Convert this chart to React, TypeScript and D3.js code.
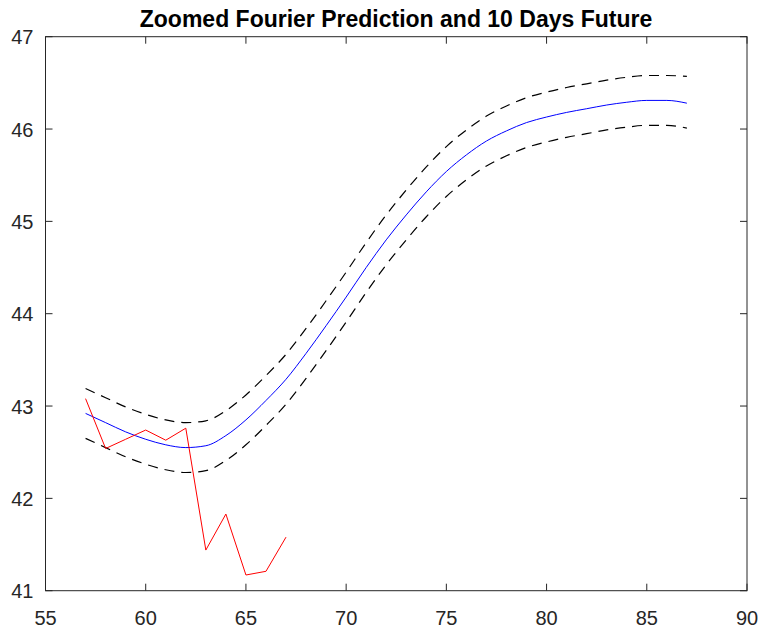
import React from "react";
import * as d3 from "d3";

const W = 764;
const H = 630;

const titleText = "Zoomed Fourier Prediction and 10 Days Future";

// Fitted Fourier prediction (days 57..87)
const fitDays = [57,58,59,60,61,62,63,64,65,66,67,68,69,70,71,72,73,74,75,76,77,78,79,80,81,82,83,84,85,86,87];
const fitValues = [42.92,42.82,42.72,42.64,42.58,42.55,42.57,42.68,42.85,43.06,43.29,43.57,43.87,44.18,44.50,44.80,45.07,45.32,45.54,45.72,45.87,45.98,46.07,46.13,46.18,46.22,46.26,46.29,46.31,46.31,46.28];
const upperValues = [43.19,43.09,42.99,42.91,42.85,42.82,42.84,42.95,43.12,43.33,43.56,43.84,44.14,44.45,44.77,45.07,45.34,45.59,45.81,45.99,46.14,46.25,46.34,46.40,46.45,46.49,46.53,46.56,46.58,46.58,46.57];
const lowerValues = [42.65,42.55,42.45,42.37,42.31,42.28,42.30,42.41,42.58,42.79,43.02,43.30,43.60,43.91,44.23,44.53,44.80,45.05,45.27,45.45,45.60,45.71,45.80,45.86,45.91,45.95,45.99,46.02,46.04,46.04,46.01];

// Actual observed values
const actualDays = [57,58,59,60,61,62,63,64,65,66,67];
const actualValues = [43.08,42.54,42.64,42.74,42.63,42.76,41.44,41.83,41.17,41.21,41.58];

const xTicks = [55,60,65,70,75,80,85,90];
const yTicks = [41,42,43,44,45,46,47];

export default function App() {
  const left = 45.5, right = 747, top = 36.7, bottom = 590.7;
  const x = d3.scaleLinear().domain([55, 90]).range([left, right]);
  const y = d3.scaleLinear().domain([41, 47]).range([bottom, top]);

  const smooth = d3.line<[number, number]>().x(d => x(d[0])).y(d => y(d[1])).curve(d3.curveMonotoneX);
  const line = d3.line<[number, number]>().x(d => x(d[0])).y(d => y(d[1]));
  const fitPath = smooth(fitDays.map((d, i) => [d, fitValues[i]]) as [number, number][]) || "";
  const upPath = smooth(fitDays.map((d, i) => [d, upperValues[i]]) as [number, number][]) || "";
  const loPath = smooth(fitDays.map((d, i) => [d, lowerValues[i]]) as [number, number][]) || "";
  const actPath = line(actualDays.map((d, i) => [d, actualValues[i]]) as [number, number][]) || "";

  const axisColor = "#262626";
  const tickLen = 7;
  const font = "'Liberation Sans', Arial, Helvetica, sans-serif";

  return (
    <svg width={W} height={H} style={{ position: "absolute", left: 0, top: 0, background: "#fff" }}>
      <rect x={0} y={0} width={W} height={H} fill="#fff" />
      <g>
        <path d={upPath} fill="none" stroke="#000" strokeWidth={1.2} strokeDasharray="10,7" />
        <path d={loPath} fill="none" stroke="#000" strokeWidth={1.2} strokeDasharray="10,7" />
        <path d={fitPath} fill="none" stroke="#0000ff" strokeWidth={1} />
        <path d={actPath} fill="none" stroke="#ff0000" strokeWidth={1} />
      </g>
      <rect x={left} y={top} width={right - left} height={bottom - top} fill="none" stroke={axisColor} strokeWidth={1} />
      {xTicks.map(t => (
        <g key={"x" + t}>
          <line x1={x(t)} x2={x(t)} y1={bottom} y2={bottom - tickLen} stroke={axisColor} />
          <line x1={x(t)} x2={x(t)} y1={top} y2={top + tickLen} stroke={axisColor} />
          <text x={x(t)} y={625} textAnchor="middle" fontFamily={font} fontSize={20} fill={axisColor}>{t}</text>
        </g>
      ))}
      {yTicks.map(t => (
        <g key={"y" + t}>
          <line x1={left} x2={left + tickLen} y1={y(t)} y2={y(t)} stroke={axisColor} />
          <line x1={right} x2={right - tickLen} y1={y(t)} y2={y(t)} stroke={axisColor} />
          <text x={33.5} y={y(t) + 7.5} textAnchor="end" fontFamily={font} fontSize={20} fill={axisColor}>{t}</text>
        </g>
      ))}
      <text x={396} y={27} textAnchor="middle" fontFamily={font} fontSize={23} fontWeight="bold" fill="#000">{titleText}</text>
    </svg>
  );
}
